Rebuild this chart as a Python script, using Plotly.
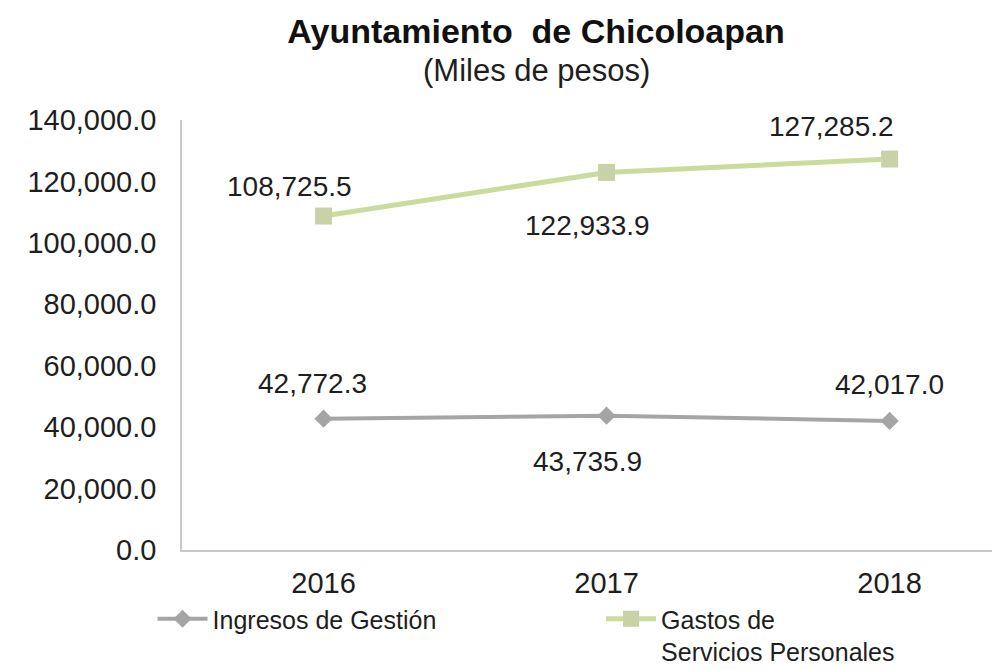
import plotly.graph_objects as go

years = ["2016", "2017", "2018"]
ingresos = [42772.3, 43735.9, 42017.0]
gastos = [108725.5, 122933.9, 127285.2]
y_ticks = [0, 20000, 40000, 60000, 80000, 100000, 120000, 140000]
y_tick_labels = ["0.0", "20,000.0", "40,000.0", "60,000.0", "80,000.0", "100,000.0", "120,000.0", "140,000.0"]

FONT = "Liberation Sans, Arial, sans-serif"
GRAY = "#A5A5A5"
GREEN = "#CBDB9C"
TXT = "#1E1E1E"

W, H = 992, 662          # page body has an 8px margin
L, T, B, R = 174, 112, 120, 0
PH = H - T - B
PW = W - L - R

fig = go.Figure()
fig.add_trace(go.Scatter(
    x=years, y=ingresos, name="Ingresos de Gestión", mode="lines+markers",
    line=dict(color=GRAY, width=4),
    marker=dict(symbol="diamond", size=14, color=GRAY),
    legend="legend",
))
fig.add_trace(go.Scatter(
    x=years, y=gastos, name="Gastos de<br>Servicios Personales", mode="lines+markers",
    line=dict(color=GREEN, width=5),
    marker=dict(symbol="square", size=17, color="#C9D2A6"),
    legend="legend2",
))

# label offsets (pixels) for each point
ing_shift = [(-11, 35), (-19, -46), (0, 36)]
gas_shift = [(-34, 30), (-19, -53), (-58, 33)]
for i, (v, (dx, dy)) in enumerate(zip(ingresos, ing_shift)):
    fig.add_annotation(x=i, y=v, xref="x", yref="y", text=f"{v:,.1f}", showarrow=False,
                       xshift=dx, yshift=dy, font=dict(size=28, color=TXT, family=FONT))
for i, (v, (dx, dy)) in enumerate(zip(gastos, gas_shift)):
    fig.add_annotation(x=i, y=v, xref="x", yref="y", text=f"{v:,.1f}", showarrow=False,
                       xshift=dx, yshift=dy, font=dict(size=28, color=TXT, family=FONT))

# subtitle
fig.add_annotation(x=(528 - L) / PW, xref="paper", xanchor="center",
                   y=1 + (T - 62) / PH, yref="paper", yanchor="middle",
                   text="(Miles de pesos)", showarrow=False,
                   font=dict(size=31, color=TXT, family=FONT))

fig.update_layout(
    width=W, height=H,
    paper_bgcolor="white", plot_bgcolor="white",
    margin=dict(l=L, r=R, t=T, b=B, autoexpand=False),
    font=dict(family=FONT, color=TXT),
    title=dict(
        text="<b>Ayuntamiento  de Chicoloapan</b>",
        x=528 / W, xanchor="center", y=1 - 23 / H, yanchor="middle",
        font=dict(size=34, color="#111111", family=FONT),
    ),
    xaxis=dict(
        type="category", range=[-0.5, 2.39],
        showline=True, linecolor="#C8C8C8", linewidth=1.5,
        showgrid=False, ticks="", tickfont=dict(size=29, color=TXT),
        ticklabelstandoff=6,
    ),
    yaxis=dict(
        range=[0, 140000], tickvals=y_ticks, ticktext=y_tick_labels,
        showline=True, linecolor="#C8C8C8", linewidth=1.5,
        showgrid=False, zeroline=False, ticks="", ticklen=0,
        tickfont=dict(size=29, color=TXT), ticklabelstandoff=18,
    ),
    legend=dict(
        orientation="h", x=-0.036, xanchor="left", y=-0.107, yanchor="top",
        font=dict(size=25, color=TXT), valign="top", itemwidth=50,
        bgcolor="rgba(0,0,0,0)",
    ),
    legend2=dict(
        orientation="h", x=0.5123, xanchor="left", y=-0.107, yanchor="top",
        font=dict(size=25, color=TXT), valign="top", itemwidth=50,
        bgcolor="rgba(0,0,0,0)",
    ),
    showlegend=True,
)

fig.write_html("out.html")
